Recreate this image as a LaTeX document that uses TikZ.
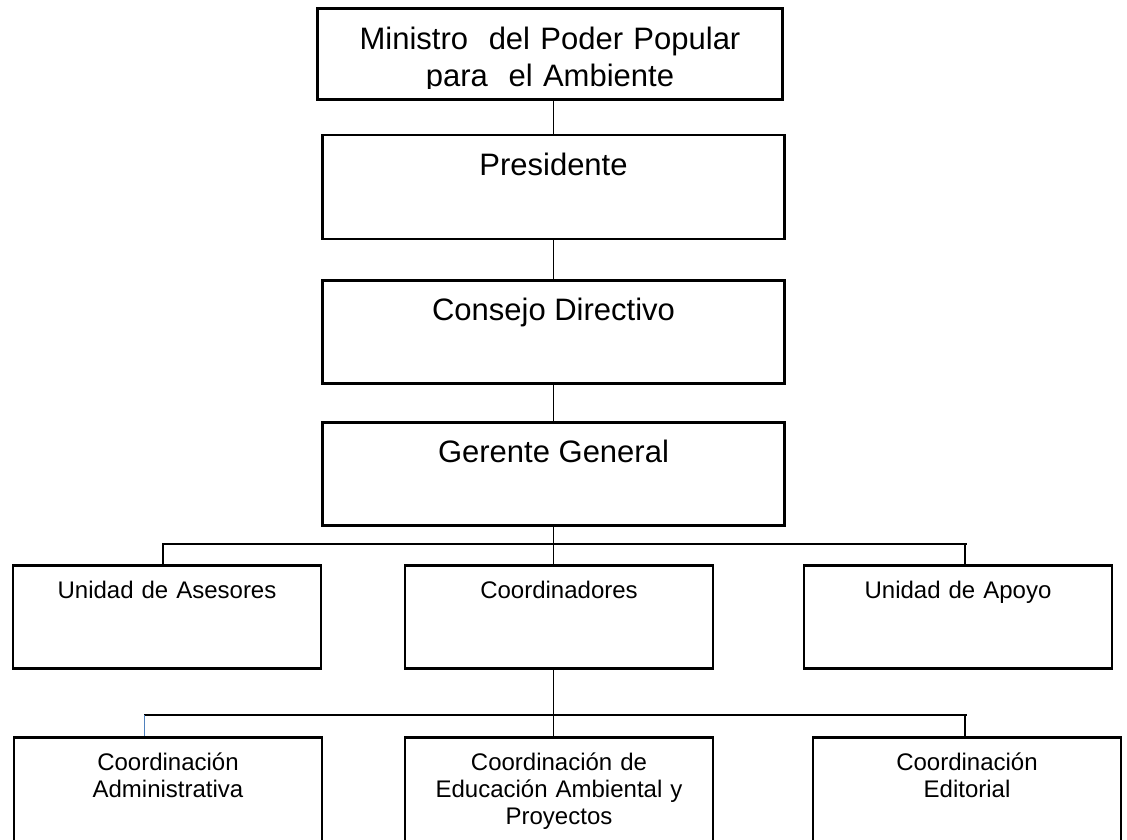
\documentclass[tikz,border=0pt]{standalone}
\usepackage{fontspec}
\setmainfont{Liberation Sans}
\usetikzlibrary{positioning}
\definecolor{dropblue}{RGB}{79,129,189}
\tikzset{
  topbox/.style={draw, line width=2.6pt, inner sep=0pt, minimum width=462pt, minimum height=104pt,
                 text height=40pt, text depth=64pt, font=\fontsize{31}{37}\selectfont},
  smallbox/.style={draw, line width=2.6pt, inner sep=0pt, minimum width=308pt, minimum height=103pt,
                   text width=300pt, align=center, text height=33pt, text depth=70pt,
                   font=\fontsize{24}{27}\selectfont},
  lowbox/.style={smallbox, text height=32.5pt, text depth=120pt},
  conn/.style={line width=1.3pt},
}

\begin{document}
\begin{tikzpicture}[x=1pt, y=1pt]
  \useasboundingbox (0,0) rectangle (1127,-840);

  % top box, its second line is cut by the frame
  \begin{scope}
    \clip (0,0) rectangle (1127,-89);
    \node[topbox, draw=none, minimum height=88pt, text height=40pt, text depth=48pt,
          text width=455pt, align=center] (ministro) at (550,-54)
          {Ministro\ \ del Poder Popular\\para\ \ el Ambiente};
  \end{scope}
  \draw[line width=2.6pt] (ministro.south west) rectangle (ministro.north east);

  \node[topbox] (presidente) [below=34.5pt of ministro, xshift=3.5pt] {Presidente};
  \node[topbox, minimum height=103pt, text depth=63pt] (consejo) [below=39pt of presidente] {Consejo Directivo};
  \node[topbox, minimum height=103pt, text depth=63pt] (gerente) [below=36pt of consejo] {Gerente General};

  \node[smallbox] (asesores) at (167,-617) {Unidad de Asesores};
  \node[smallbox] (coord) at (559,-617) {Coordinadores};
  \node[smallbox] (apoyo) at (958,-617) {Unidad de Apoyo};

  \node[lowbox] (admin) at (168,-813.75) {Coordinación\\Administrativa};
  \node[lowbox] (educ) at (559,-813.75) {Coordinación de\\Educación Ambiental y\\Proyectos};
  \node[lowbox] (editorial) at (967,-813.75) {Coordinación\\Editorial};

  \draw[conn] (presidente.north) -- (presidente.north |- ministro.south);
  \draw[conn] (presidente.south) -- (consejo.north);
  \draw[conn] (consejo.south) -- (gerente.north);
  \draw[conn] (gerente.south) -- (gerente.south |- coord.north);

  \coordinate (bus1L) at (163,-544);
  \coordinate (bus1R) at (965,-544);
  \draw[conn] (asesores.north -| bus1L) -- (bus1L) -- ([xshift=2pt]bus1R);
  \draw[conn] (bus1R) -- (apoyo.north -| bus1R);

  \coordinate (bus2L) at (144,-715);
  \coordinate (bus2R) at (965,-715);
  \draw[conn] (coord.south -| gerente.south) -- (educ.north -| gerente.south);
  \draw[conn] (bus2L) -- ([xshift=2pt]bus2R);
  \draw[dropblue, line width=1pt] (bus2L) -- (admin.north -| bus2L);
  \draw[conn] (bus2R) -- (editorial.north -| bus2R);
\end{tikzpicture}
\end{document}
